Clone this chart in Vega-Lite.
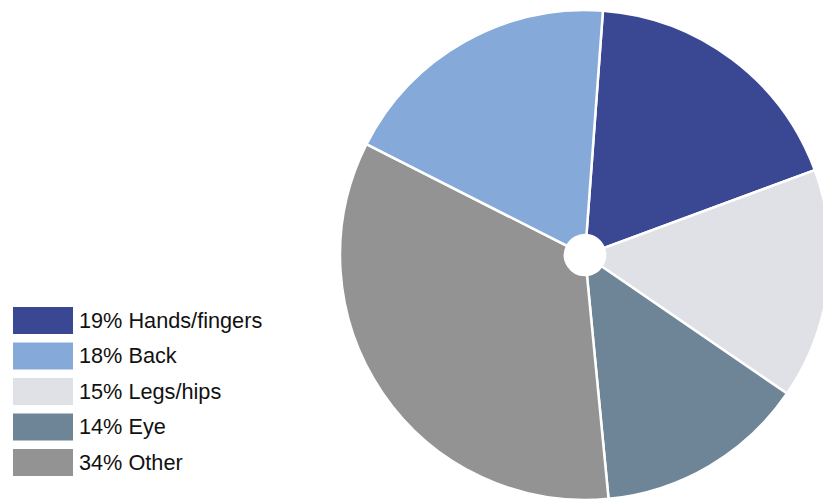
{
  "$schema": "https://vega.github.io/schema/vega-lite/v6.json",
  "width": 823,
  "height": 501,
  "autosize": {"type": "none"},
  "padding": 0,
  "background": "white",
  "config": {"view": {"stroke": null}, "font": "Liberation Sans"},
  "data": {
    "values": [
      {"label": "19% Hands/fingers", "value": 18.2, "ord": 1},
      {"label": "15% Legs/hips", "value": 15.2, "ord": 2},
      {"label": "14% Eye", "value": 13.9, "ord": 3},
      {"label": "34% Other", "value": 34.0, "ord": 4},
      {"label": "18% Back", "value": 18.7, "ord": 5}
    ]
  },
  "mark": {
    "type": "arc",
    "x": 585,
    "y": 255,
    "innerRadius": 20,
    "outerRadius": 245,
    "stroke": "white",
    "strokeWidth": 2.5
  },
  "encoding": {
    "theta": {
      "field": "value",
      "type": "quantitative",
      "stack": true,
      "scale": {"range": [0.0733, 6.3565]}
    },
    "order": {"field": "ord", "type": "quantitative"},
    "color": {
      "field": "label",
      "type": "nominal",
      "scale": {
        "domain": ["19% Hands/fingers", "18% Back", "15% Legs/hips", "14% Eye", "34% Other"],
        "range": ["#3a4793", "#85a9d9", "#e0e1e6", "#6e8597", "#939393"]
      },
      "legend": {
        "orient": "none",
        "legendX": 13,
        "legendY": 305.5,
        "title": null,
        "symbolType": "M-1,-0.9H3V0.9H-1Z",
        "symbolSize": 900,
        "symbolStrokeWidth": 0,
        "symbolOpacity": 1,
        "labelFont": "Liberation Sans",
        "labelFontSize": 21.7,
        "labelColor": "#111111",
        "labelOffset": 36,
        "rowPadding": 6.5,
        "labelLimit": 400,
        "padding": 0
      }
    }
  }
}
